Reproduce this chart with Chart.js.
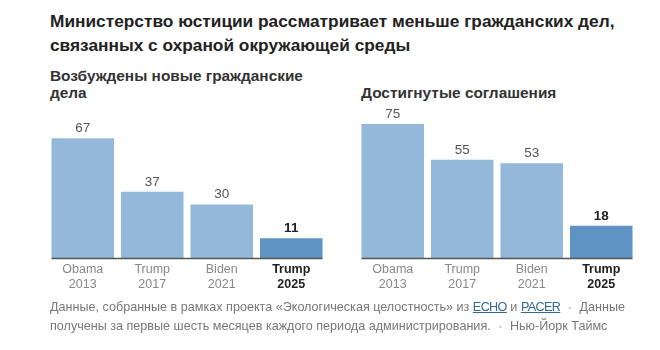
<!DOCTYPE html>
<html><head><meta charset="utf-8">
<script src="https://cdn.jsdelivr.net/npm/chart.js@4"></script>
<style>
body{margin:0;background:#fff;width:660px;height:350px;position:relative;overflow:hidden;font-family:"Liberation Sans",Arial,sans-serif;}
#title{position:absolute;left:50px;top:9px;font-weight:bold;font-size:17.3px;line-height:24px;color:#222;}
.sub{position:absolute;font-weight:bold;font-size:15.4px;line-height:17px;color:#333;}
.wrap{position:absolute;top:100px;width:278px;height:200px;}
#foot{position:absolute;left:50px;top:298px;font-size:12.6px;line-height:18px;color:#777;width:590px;}
#foot a{color:#326891;text-decoration:underline;letter-spacing:-0.6px;}
.dot{color:#ccc;margin:0 8px;font-size:9px;}
</style></head><body>
<div id="title">Министерство юстиции рассматривает меньше гражданских дел,<br>связанных с охраной окружающей среды</div>
<div class="sub" style="left:50px;top:67px;">Возбуждены новые гражданские<br>дела</div>
<div class="sub" style="left:361px;top:84px;">Достигнутые соглашения</div>
<div class="wrap" style="left:47.5px;"><canvas id="c1"></canvas></div>
<div class="wrap" style="left:357.5px;"><canvas id="c2"></canvas></div>
<div id="foot">Данные, собранные в рамках проекта «Экологическая целостность» из <a>ECHO</a> и <a>PACER</a><span class="dot">•</span>Данные получены за первые шесть месяцев каждого периода администрирования.<span class="dot">•</span>Нью-Йорк Таймс</div>
<script>
const presidents = ["Obama","Trump","Biden","Trump"];
const years = ["2013","2017","2021","2025"];
const newCases = [67,37,30,11];
const settlements = [75,55,53,18];
const yMax = 80;

const light = "#93b8da", dark = "#5f93c4";

const labelPlugin = {
  id:"vals",
  afterDatasetsDraw(chart){
    const ctx = chart.ctx;
    const meta = chart.getDatasetMeta(0);
    const data = chart.data.datasets[0].data;
    ctx.save();
    meta.data.forEach((bar,i)=>{
      const last = i===data.length-1;
      ctx.font = (last?"bold ":"")+"13.5px 'Liberation Sans', Arial, sans-serif";
      ctx.fillStyle = last ? "#222" : "#555";
      ctx.textAlign="center"; ctx.textBaseline="bottom";
      ctx.fillText(String(data[i]), bar.x, bar.y-3);
    });
    const first = meta.data[0], lastB = meta.data[meta.data.length-1];
    const y0 = chart.scales.y.getPixelForValue(0);
    ctx.strokeStyle="#555"; ctx.lineWidth=1.5;
    ctx.beginPath();
    ctx.moveTo(first.x-first.width/2, y0+0.5);
    ctx.lineTo(lastB.x+lastB.width/2, y0+0.5);
    ctx.stroke();
    ctx.restore();
  }
};

function make(id, values){
  new Chart(document.getElementById(id),{
    type:"bar",
    data:{
      labels: presidents.map((p,i)=>[p,years[i]]),
      datasets:[{data:values,
        backgroundColor: values.map((v,i)=> i===values.length-1?dark:light),
        barPercentage:0.9, categoryPercentage:1.0, borderWidth:0}]
    },
    options:{
      responsive:true, maintainAspectRatio:false, animation:false,
      layout:{padding:{top:15,left:0,right:0,bottom:0}},
      plugins:{legend:{display:false},tooltip:{enabled:false}},
      scales:{
        y:{display:false,min:0,max:yMax},
        x:{
          grid:{display:false,drawTicks:false},
          border:{display:false},
          afterFit(s){ s.height = 42; },
          ticks:{
            padding:4,
            maxRotation:0,
            color:(c)=> c.index===3 ? "#222" : "#888",
            font:(c)=>({family:"'Liberation Sans', Arial, sans-serif", size:12.5, weight: c.index===3?"bold":"normal", lineHeight:1.2})
          }
        }
      }
    },
    plugins:[labelPlugin]
  });
}
make("c1", newCases);
make("c2", settlements);
</script>
</body></html>
